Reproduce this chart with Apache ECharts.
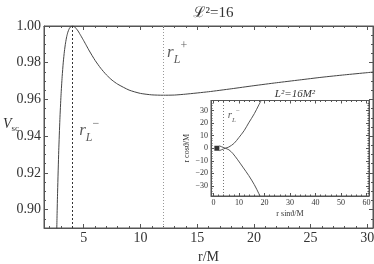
<!DOCTYPE html>
<html>
<head>
<meta charset="utf-8">
<script src="https://cdn.jsdelivr.net/npm/echarts@6/dist/echarts.min.js"></script>
<style>
html,body{margin:0;padding:0;background:#fff;}
#c{width:374px;height:264px;}
</style>
</head>
<body>
<div id="c"></div>
<script>
// ---- data ----
const rValues = [2.6, 2.65, 2.7, 2.8, 2.9, 3.0, 3.1, 3.2, 3.3, 3.4, 3.5, 3.6, 3.7, 3.8, 4.0, 4.2, 4.35, 4.5, 4.75, 5, 5.25, 5.5, 6, 6.5, 7, 7.5, 8, 9, 10, 11, 12, 13, 14, 16, 18, 20, 22, 24, 26, 28, 30, 30.5];
const vscValues = [0.8815, 0.8967, 0.9101, 0.9321, 0.9491, 0.9623, 0.9724, 0.9803, 0.9863, 0.9908, 0.9942, 0.9966, 0.9982, 0.9993, 1.0000, 0.9995, 0.9985, 0.9973, 0.9947, 0.9920, 0.9892, 0.9864, 0.9813, 0.9770, 0.9734, 0.9705, 0.9683, 0.9651, 0.9633, 0.9625, 0.9623, 0.9624, 0.9629, 0.9642, 0.9658, 0.9675, 0.9691, 0.9706, 0.9721, 0.9734, 0.9746, 0.9749];
const rLMinus = 4;
const rLPlus = 12;
// inset orbit (r sinθ/M , r cosθ/M)
const orbitUpperX = [2.3, 4.6, 6, 8, 9.9, 12, 13.8, 16, 17.8, 19.2];
const orbitUpperY = [-1.9, 0, 1, 3.8, 8.4, 14, 20.2, 27.5, 34.6, 40];
const orbitLowerX = [2.3, 4.6, 6, 7.5, 9.3, 11.5, 13.8, 16, 17.8, 18.6];
const orbitLowerY = [1.9, 0, -1.2, -4, -8.7, -15, -21.7, -29, -36.2, -40];
const blackHole = [[1.3, 0]];

const SERIF = '"Liberation Serif","DejaVu Serif",serif';
const TXT = '#333';
const AX = '#555';

const pair = (xs, ys) => xs.map((x, i) => [x, ys[i]]);
const minus = v => String(v).replace('-', '\u2212');

function frameAxis(base) {
  return Object.assign({
    type: 'value',
    axisLine: {show: true, onZero: false, lineStyle: {color: AX, width: 1}},
    axisTick: {show: true, inside: true, length: 4, lineStyle: {color: AX, width: 1}},
    minorTick: {show: true, splitNumber: 5, length: 2, lineStyle: {color: AX, width: 1}},
    splitLine: {show: false},
    axisLabel: {show: false}
  }, base);
}

const chart = echarts.init(document.getElementById('c'), null, {renderer: 'canvas'});

const mainLabel = {show: true, color: TXT, fontFamily: SERIF, fontSize: 14, margin: 3, showMinLabel: false, showMaxLabel: false};
const insetLabel = {show: true, color: TXT, fontFamily: SERIF, fontSize: 8, margin: 3, showMinLabel: false, showMaxLabel: false, formatter: minus};

const mainRich = {
  r: {fontFamily: SERIF, fontSize: 17, fontStyle: 'italic', color: TXT, lineHeight: 26, verticalAlign: 'middle'},
  s: {fontFamily: SERIF, fontSize: 12, fontStyle: 'italic', color: TXT, lineHeight: 10, verticalAlign: 'bottom'},
  p: {fontFamily: SERIF, fontSize: 12, color: TXT, lineHeight: 14, verticalAlign: 'top'}
};

const option = {
  animation: false,
  backgroundColor: '#fff',
  title: [
    {text: '\u2112\u00b2=16', left: 208, top: 1, textAlign: 'center',
     textStyle: {fontFamily: SERIF, fontSize: 15, fontWeight: 'normal', color: TXT}},
    {text: 'L\u00b2=16M\u00b2', left: 290, top: 84, textAlign: 'center',
     textStyle: {fontFamily: SERIF, fontSize: 11, fontStyle: 'italic', fontWeight: 'normal', color: TXT}}
  ],
  graphic: [{
    type: 'text', left: 3, top: 117, z: 10,
    style: {
      text: '{v|V}{s|sc}',
      rich: {
        v: {fontFamily: SERIF, fontSize: 14, fontStyle: 'italic', fill: TXT, lineHeight: 18, verticalAlign: 'middle'},
        s: {fontFamily: SERIF, fontSize: 9, fill: TXT, lineHeight: 9, verticalAlign: 'bottom'}
      }
    }
  }],
  grid: [
    {left: 44, right: 1, top: 26, bottom: 36, outerBoundsMode: 'none', containLabel: false,
     show: true, borderWidth: 1, borderColor: AX, backgroundColor: 'transparent'},
    {left: 211, width: 158, top: 100.5, height: 95.5, outerBoundsMode: 'none', containLabel: false,
     show: true, borderWidth: 1, borderColor: AX, backgroundColor: '#fff', z: 5}
  ],
  xAxis: [
    frameAxis({gridIndex: 0, position: 'bottom', min: 1.5, max: 30.5,
      axisLabel: mainLabel,
      name: 'r/M', nameLocation: 'middle', nameGap: 22,
      nameTextStyle: {fontFamily: SERIF, fontSize: 14, color: TXT}}),
    frameAxis({gridIndex: 0, position: 'top', min: 1.5, max: 30.5}),
    frameAxis({gridIndex: 1, position: 'bottom', min: -1, max: 61, splitNumber: 6, z: 6,
      axisTick: {show: true, inside: true, length: 3, lineStyle: {color: AX}},
      minorTick: {show: true, splitNumber: 5, length: 1.5, lineStyle: {color: AX}},
      axisLabel: insetLabel,
      name: 'r sin\u03d1/M', nameLocation: 'middle', nameGap: 14,
      nameTextStyle: {fontFamily: SERIF, fontSize: 8, color: TXT}}),
    frameAxis({gridIndex: 1, position: 'top', min: -1, max: 61, splitNumber: 6, z: 6,
      axisTick: {show: true, inside: true, length: 3, lineStyle: {color: AX}},
      minorTick: {show: true, splitNumber: 5, length: 1.5, lineStyle: {color: AX}}})
  ],
  yAxis: [
    frameAxis({gridIndex: 0, position: 'left', min: 0.89, max: 1.0,
      minorTick: {show: true, splitNumber: 4, length: 2, lineStyle: {color: AX}},
      axisLabel: Object.assign({}, mainLabel, {showMaxLabel: true, formatter: v => v.toFixed(2)})}),
    frameAxis({gridIndex: 0, position: 'right', min: 0.89, max: 1.0,
      minorTick: {show: true, splitNumber: 4, length: 2, lineStyle: {color: AX}}}),
    frameAxis({gridIndex: 1, position: 'left', min: -38, max: 38, splitNumber: 7, z: 6,
      axisTick: {show: true, inside: true, length: 3, lineStyle: {color: AX}},
      minorTick: {show: true, splitNumber: 5, length: 1.5, lineStyle: {color: AX}},
      axisLabel: insetLabel,
      name: 'r cos\u03d1/M', nameLocation: 'middle', nameGap: 20, nameRotate: 90,
      nameTextStyle: {fontFamily: SERIF, fontSize: 8, color: TXT}}),
    frameAxis({gridIndex: 1, position: 'right', min: -38, max: 38, splitNumber: 7, z: 6,
      axisTick: {show: true, inside: true, length: 3, lineStyle: {color: AX}},
      minorTick: {show: true, splitNumber: 5, length: 1.5, lineStyle: {color: AX}}})
  ],
  series: [
    {
      type: 'line', xAxisIndex: 0, yAxisIndex: 0,
      data: pair(rValues, vscValues),
      showSymbol: false, smooth: 0.2, clip: true,
      lineStyle: {color: '#444', width: 1},
      markLine: {
        silent: true, symbol: 'none', label: {show: false},
        data: [
          {xAxis: rLMinus, lineStyle: {color: '#333', type: [2, 2], width: 1}},
          {xAxis: rLPlus, lineStyle: {color: '#999', type: [1, 2], width: 1}}
        ]
      }
    },
    {
      type: 'scatter', xAxisIndex: 0, yAxisIndex: 0, symbolSize: 0, silent: true,
      label: {show: true, position: 'right', distance: 0, rich: mainRich},
      data: [
        {value: [rLPlus + 0.35, 0.9855], label: {formatter: '{r|r}{s|L}{p|+}'}},
        {value: [rLMinus + 0.6, 0.9430], label: {formatter: '{r|r}{s|L}{p|\u2212}'}}
      ]
    },
    {
      type: 'line', xAxisIndex: 2, yAxisIndex: 2, z: 7,
      data: pair(orbitUpperX, orbitUpperY),
      showSymbol: false, smooth: 0.3, clip: true,
      lineStyle: {color: '#555', width: 1},
      markLine: {
        silent: true, symbol: 'none', label: {show: false},
        data: [{xAxis: rLMinus, lineStyle: {color: '#777', type: [1, 2], width: 1}}]
      }
    },
    {
      type: 'line', xAxisIndex: 2, yAxisIndex: 2, z: 7,
      data: pair(orbitLowerX, orbitLowerY),
      showSymbol: false, smooth: 0.3, clip: true,
      lineStyle: {color: '#555', width: 1}
    },
    {
      type: 'scatter', xAxisIndex: 2, yAxisIndex: 2, z: 8,
      data: blackHole, symbol: 'rect', symbolSize: 5,
      itemStyle: {color: '#000'}
    },
    {
      type: 'scatter', xAxisIndex: 2, yAxisIndex: 2, z: 8, symbolSize: 0, silent: true,
      label: {show: true, position: 'right', distance: 0,
        rich: {
          r: {fontFamily: SERIF, fontSize: 11, fontStyle: 'italic', color: TXT, lineHeight: 16, verticalAlign: 'middle'},
          s: {fontFamily: SERIF, fontSize: 7, fontStyle: 'italic', color: TXT, lineHeight: 7, verticalAlign: 'bottom'},
          p: {fontFamily: SERIF, fontSize: 7, color: TXT, lineHeight: 8, verticalAlign: 'top'}
        }},
      data: [{value: [rLMinus + 1.6, 26], label: {formatter: '{r|r}{s|L}{p|\u2212}'}}]
    }
  ]
};
chart.setOption(option);
</script>
</body>
</html>
